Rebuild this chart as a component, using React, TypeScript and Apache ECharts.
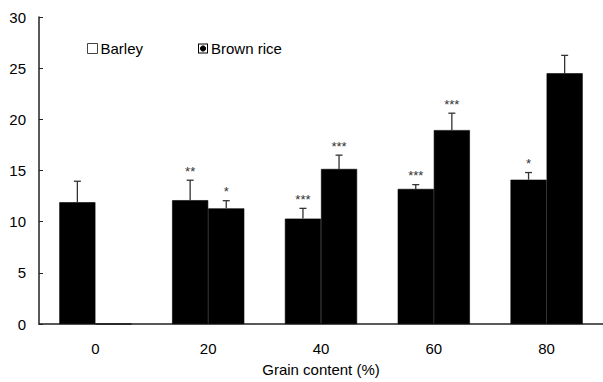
import React, { useEffect, useRef } from "react";
import * as echarts from "echarts";

const categories = ["0", "20", "40", "60", "80"];
const barley = [11.9, 12.1, 10.3, 13.2, 14.1];
const barleyErr = [2.05, 1.95, 1.0, 0.42, 0.7];
const brownRice = [0, 11.3, 15.15, 18.95, 24.5];
const brownRiceErr = [0, 0.75, 1.35, 1.65, 1.75];
const barleySig = ["", "**", "***", "***", "*"];
const brownRiceSig = ["", "*", "***", "***", ""];

const yTicks = { min: 0, max: 30, interval: 5 };

const FONT = "Liberation Sans, Arial, sans-serif";

function errSeries(name: string, vals: number[], errs: number[], sig: string[], offset: number) {
  return {
    type: "custom",
    name: name + " error",
    z: 5,
    silent: true,
    data: vals.map((v, i) => [i, v, errs[i]]),
    encode: { x: 0, y: 1 },
    renderItem: (params: any, api: any) => {
      const idx = api.value(0);
      const v = api.value(1);
      const e = api.value(2);
      const cw = api.size([1, 0])[0];
      const base = api.coord([idx, v]);
      const top = api.coord([idx, v + e]);
      const x = base[0] + offset * cw;
      const children: any[] = [];
      if (e > 0) {
        children.push({
          type: "line",
          shape: { x1: x, y1: base[1], x2: x, y2: top[1] },
          style: { stroke: "#333", lineWidth: 1.3 },
        });
        children.push({
          type: "line",
          shape: { x1: x - 3.5, y1: top[1], x2: x + 3.5, y2: top[1] },
          style: { stroke: "#333", lineWidth: 1.3 },
        });
      }
      const s = sig[params.dataIndex];
      if (s) {
        children.push({
          type: "text",
          style: {
            text: s,
            x: x,
            y: top[1] - 9,
            align: "center",
            verticalAlign: "middle",
            fontSize: 13,
            fontFamily: FONT,
            fill: "#333",
          },
        });
      }
      return { type: "group", children };
    },
  };
}

export default function App() {
  const ref = useRef<HTMLDivElement>(null);
  useEffect(() => {
    if (!ref.current) return;
    const chart = echarts.init(ref.current, undefined, { renderer: "svg" });
    const brownIcon =
      "path://M0,0H10V10H0Z M1,1V9H9V1Z M2,4L4,2H6L8,4V6L6,8H4L2,6Z";
    chart.setOption({
      animation: false,
      backgroundColor: "#fff",
      textStyle: { fontFamily: FONT },
      grid: { left: 39, top: 17, width: 569, height: 309, containLabel: false },
      legend: {
        left: 82,
        top: 36,
        itemWidth: 10,
        itemHeight: 10,
        itemGap: 55,
        textStyle: { fontSize: 15, color: "#000", fontFamily: FONT, padding: [0, 0, 0, -2] },
        data: [
          { name: "Barley", icon: "rect", itemStyle: { color: "#fff", borderColor: "#444", borderWidth: 1 } },
          { name: "Brown rice", icon: brownIcon, itemStyle: { color: "#000", borderWidth: 0 } },
        ],
      },
      xAxis: {
        type: "category",
        data: categories,
        name: "Grain content (%)",
        nameLocation: "middle",
        nameGap: 38,
        nameTextStyle: { fontSize: 15, color: "#000", fontFamily: FONT },
        axisLine: { lineStyle: { color: "#222", width: 1.5 } },
        axisTick: { inside: true, length: 4, lineStyle: { color: "#222" } },
        axisLabel: { fontSize: 15, color: "#000", margin: 17, fontFamily: FONT },
      },
      yAxis: {
        type: "value",
        min: yTicks.min,
        max: yTicks.max,
        interval: yTicks.interval,
        axisLine: { show: true, lineStyle: { color: "#222", width: 1.5 } },
        axisTick: { show: true, inside: true, length: 4, lineStyle: { color: "#222" } },
        axisLabel: { fontSize: 15, color: "#000", margin: 13, fontFamily: FONT },
        splitLine: { show: false },
      },
      series: [
        {
          name: "Barley",
          type: "bar",
          data: barley,
          barGap: "0%",
          barCategoryGap: "36%",
          itemStyle: { color: "#000", borderColor: "#000", borderWidth: 0.6 },
        },
        {
          name: "Brown rice",
          type: "bar",
          data: brownRice,
          itemStyle: { color: "#000", borderColor: "#000", borderWidth: 0.6 },
        },
        errSeries("Barley", barley, barleyErr, barleySig, -0.16),
        errSeries("Brown rice", brownRice, brownRiceErr, brownRiceSig, 0.16),
      ],
    });
    return () => chart.dispose();
  }, []);
  return (
    <div
      ref={ref}
      style={{ position: "fixed", left: 0, top: 0, width: 603, height: 382, background: "#fff" }}
    />
  );
}
